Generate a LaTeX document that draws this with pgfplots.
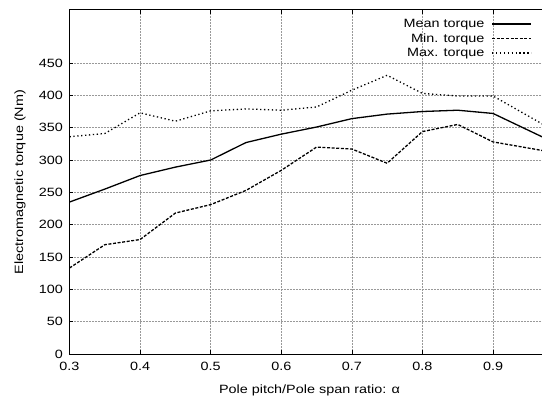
\documentclass[border=0pt]{standalone}
\usepackage{fontspec}
\setmainfont{Liberation Sans}[FakeStretch=1.2]
\usepackage{pgfplots}
\pgfplotsset{compat=1.18}
\newcommand{\gf}{\fontsize{12bp}{14bp}\selectfont}
\begin{document}
\begin{tikzpicture}
\begin{axis}[
  name=ax,
  scale only axis,
  width=480bp, height=344bp,
  xmin=0.3, xmax=0.98,
  ymin=0, ymax=532,
  xtick={0.3,0.4,...,0.9},
  ytick={0,50,...,450},
  xticklabels={0.3,0.4,0.5,0.6,0.7,0.8,0.9},
  /pgf/number format/assume math mode=true,
  tick label style={font=\gf},
  xticklabel style={yshift=-5bp},
  yticklabel style={xshift=-3bp},
  tick align=inside,
  major tick length=4bp,
  tick style={black, line width=0.6bp},
  axis line style={black, line width=1bp},
  grid=major,
  grid style={gray!80, line width=0.5bp, dash pattern=on 0.6bp off 0.9bp},
  xlabel={Pole pitch/Pole span ratio: α},
  ylabel={Electromagnetic torque (Nm)},
  every axis x label/.style={at={(axis description cs:0.5,-0.1047)}, anchor=center, font=\gf},
  every axis y label/.style={at={(axis description cs:-0.1031,0.5)}, anchor=center, rotate=90, font=\gf},
  legend plot pos=right,
  legend cell align=right,
  legend image code/.code={\draw[#1] (0bp,0bp) -- (39bp,0bp);},
  legend style={at={(axis description cs:0.9635,1)}, anchor=north east, yshift=-7bp,
    draw=none, fill=none, inner sep=0pt, font=\gf, row sep=0.5bp,
    /tikz/every odd column/.append style={column sep=5bp}},
]
\addplot[black, line width=1.3bp] coordinates {
(0.30,235) (0.35,255) (0.40,276) (0.45,289) (0.50,300) (0.55,327) (0.60,340)
(0.65,351) (0.70,364) (0.75,371) (0.80,375) (0.85,377) (0.90,372) (1.00,320)};
\addlegendentry{Mean torque}
\addplot[black, line width=1.3bp, dash pattern=on 3bp off 1.6bp] coordinates {
(0.30,133) (0.35,169) (0.40,177) (0.45,218) (0.50,231) (0.55,253) (0.60,284)
(0.65,320) (0.70,317) (0.75,295) (0.80,344) (0.85,355) (0.90,328) (1.00,309)};
\addlegendentry{Min. torque}
\addplot[black, line width=1.3bp, dash pattern=on 1.3bp off 2.6bp] coordinates {
(0.30,336) (0.35,341) (0.40,373) (0.45,360) (0.50,376) (0.55,379) (0.60,377)
(0.65,382) (0.70,408) (0.75,431) (0.80,403) (0.85,399) (0.90,399) (1.00,337)};
\addlegendentry{Max. torque}
\end{axis}
\pgfresetboundingbox
\path[use as bounding box] (ax.south west) ++(-69.5bp,-47bp) rectangle ++(542bp,401bp);
\end{tikzpicture}
\end{document}
